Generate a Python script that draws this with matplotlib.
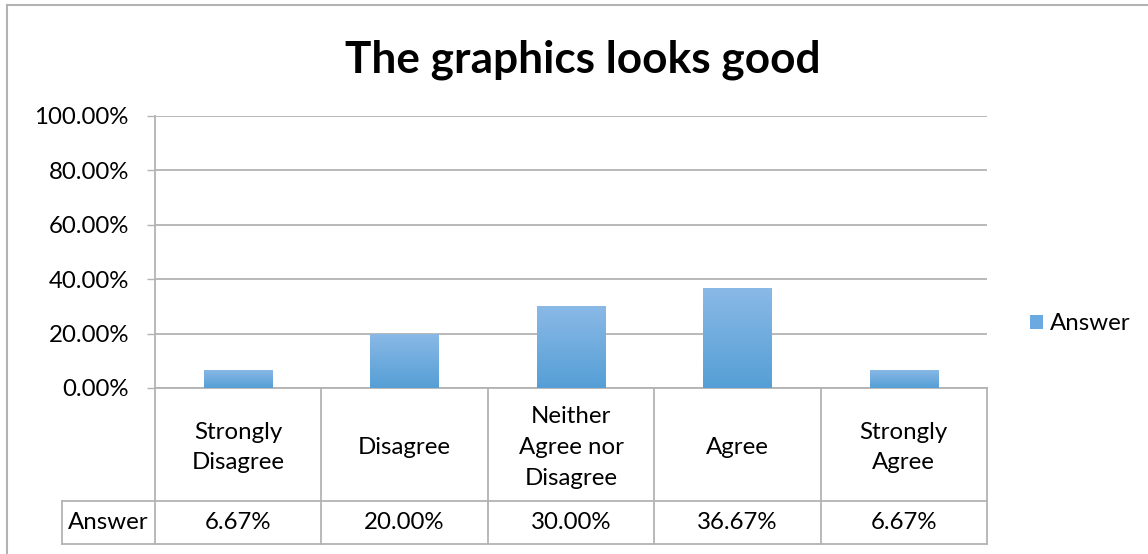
import matplotlib
matplotlib.use("Agg")
import matplotlib.pyplot as plt
import numpy as np
from matplotlib.transforms import blended_transform_factory
from matplotlib.patches import Rectangle
from matplotlib.lines import Line2D
from matplotlib.colors import LinearSegmentedColormap

# ---------------- data ----------------
title = "The graphics looks good"
categories = ["Strongly\nDisagree", "Disagree", "Neither\nAgree nor\nDisagree", "Agree", "Strongly\nAgree"]
values = [6.67, 20.00, 30.00, 36.67, 6.67]
value_labels = ["6.67%", "20.00%", "30.00%", "36.67%", "6.67%"]
series_name = "Answer"
yticks = [0, 20, 40, 60, 80, 100]
ytick_labels = ["0.00%", "20.00%", "40.00%", "60.00%", "80.00%", "100.00%"]

# ---------------- style ----------------
plt.rcParams['font.family'] = ['Lato', 'DejaVu Sans']
GRAY = '#b3b3b3'
FS = 17.3

W, H = 1148, 554
fig = plt.figure(figsize=(W / 100, H / 100), dpi=100)
px_l, px_r, px_t, px_b = 155, 987, 116, 388
ax = fig.add_axes([px_l / W, 1 - px_b / H, (px_r - px_l) / W, (px_b - px_t) / H])

x = np.arange(len(categories))
bars = ax.bar(x, values, width=0.41, color='#6aaae0', zorder=3, label=series_name)
cmap = LinearSegmentedColormap.from_list('g', ['#559fd6', '#8ab9e6'])
grad = np.linspace(0, 1, 256).reshape(-1, 1)
for b in bars:
    x0, y0, w, h = b.get_x(), b.get_y(), b.get_width(), b.get_height()
    im = ax.imshow(grad, extent=[x0, x0 + w, y0, y0 + h], origin='lower',
                   cmap=cmap, aspect='auto', zorder=3.5, interpolation='bilinear')
    im.set_clip_path(b)

ax.set_xlim(-0.5, len(categories) - 0.5)
ax.set_ylim(0, 100)
ax.set_yticks(yticks)
ax.set_yticklabels(ytick_labels, fontsize=FS)
ax.set_xticks([])
ax.yaxis.grid(True, color=GRAY, lw=1.3)
ax.set_axisbelow(True)
ax.tick_params(axis='y', length=5.8, width=1, color=GRAY, pad=13)
for s in ['top', 'right']:
    ax.spines[s].set_visible(False)
for s in ['left', 'bottom']:
    ax.spines[s].set_color(GRAY)
    ax.spines[s].set_linewidth(1.3)

# ---------------- data table ----------------
tr = blended_transform_factory(ax.transData, ax.transAxes)
axh = px_b - px_t
r1 = -(501 - px_b) / axh
r2 = -(544 - px_b) / axh
catw = (px_r - px_l) / len(categories)
xa = -0.5 + (62 - px_l) / catw
n = len(categories)
lk = dict(color=GRAY, lw=1.3, transform=tr, clip_on=False)
for i in range(n + 1):
    ax.add_line(Line2D([i - 0.5, i - 0.5], [0, r2], **lk))
ax.add_line(Line2D([xa, n - 0.5], [r1, r1], **lk))
ax.add_line(Line2D([xa, n - 0.5], [r2, r2], **lk))
ax.add_line(Line2D([xa, xa], [r1, r2], **lk))

off = -3 / axh
for i, (c, v) in enumerate(zip(categories, value_labels)):
    ax.text(i, r1 / 2 + off, c, transform=tr, ha='center', va='center',
            multialignment='center', fontsize=FS, linespacing=1.58)
    ax.text(i, (r1 + r2) / 2, v, transform=tr, ha='center', va='center', fontsize=FS)
ax.text((xa - 0.5) / 2, (r1 + r2) / 2, series_name, transform=tr,
        ha='center', va='center', fontsize=FS)

# ---------------- title & legend ----------------
fig.text(583 / W, 1 - 60 / H, title, ha='center', va='center',
         fontsize=31.8, fontweight='bold')
handle = Rectangle((0, 0), 1, 1, fc='#6aaae0')
fig.legend([handle], [series_name], loc='center left',
           bbox_to_anchor=(1008 / W, 1 - 324 / H), frameon=False,
           fontsize=FS, handlelength=0.55, handleheight=0.55, handletextpad=0.3)

# ---------------- outer border ----------------
fig.add_artist(Line2D([7 / W, 7 / W], [0, 1 - 5 / H], transform=fig.transFigure, color=GRAY, lw=1.5))
fig.add_artist(Line2D([7 / W, 1], [1 - 5 / H, 1 - 5 / H], transform=fig.transFigure, color=GRAY, lw=1.5))

fig.savefig('out.png', dpi=100)
